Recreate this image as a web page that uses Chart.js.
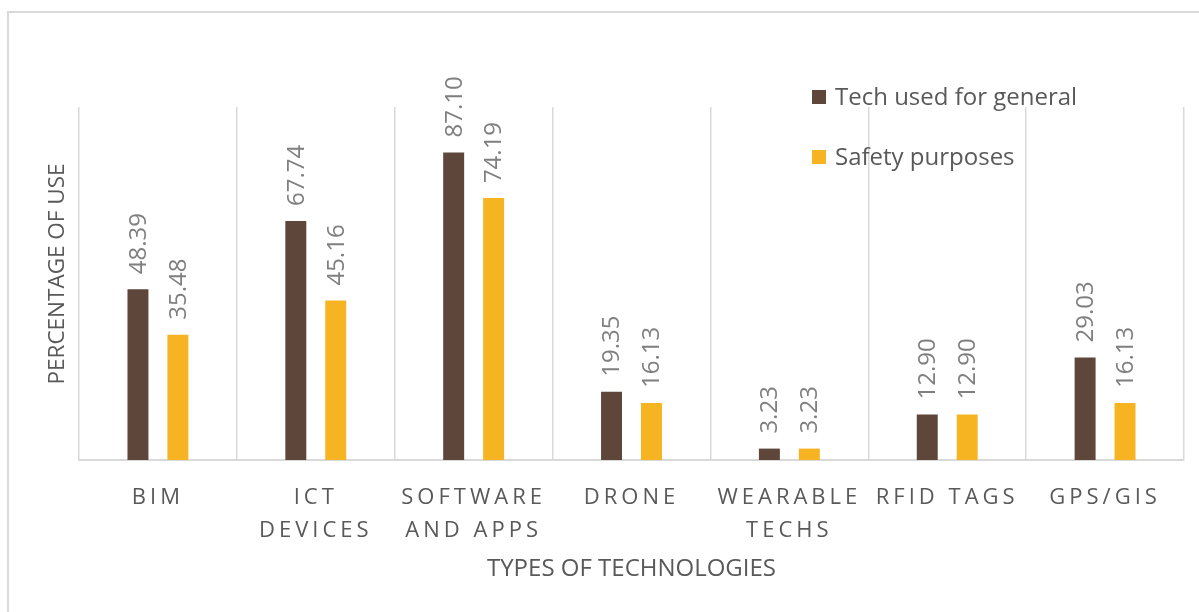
<!DOCTYPE html>
<html lang="en">
<head>
    <meta charset="UTF-8">
    <title>Types of technologies</title>
    <style>
        html, body { margin: 0; padding: 0; background: #fff; }
        .chart-box { position: relative; width: 1199px; height: 612px; }
    </style>
</head>
<body>
<div class="chart-box">
    <canvas id="techChart" width="1199" height="612"></canvas>
</div>

<script src="https://cdn.jsdelivr.net/npm/chart.js"></script>
<script>
// chart data
const categories = [['BIM'], ['ICT', 'DEVICES'], ['SOFTWARE', 'AND APPS'], ['DRONE'], ['WEARABLE', 'TECHS'], ['RFID TAGS'], ['GPS/GIS']];
const seriesNames = ['Tech used for general', 'Safety purposes'];
const generalUse = [48.39, 67.74, 87.10, 19.35, 3.23, 12.90, 29.03];
const safetyUse = [35.48, 45.16, 74.19, 16.13, 3.23, 12.90, 16.13];
const xTitle = 'TYPES OF TECHNOLOGIES';
const yTitle = 'PERCENTAGE OF USE';

const colors = ['#5E463B', '#F6B322'];
const textGrey = '#595959';
const FONT = '"Open Sans", "DejaVu Sans", sans-serif';

Chart.defaults.font.family = FONT;

// spaced-out tick labels, labels above bars, legend, titles, frame
const decorPlugin = {
    id: 'decor',
    beforeDraw(chart) {
        const ctx = chart.ctx;
        ctx.save();
        ctx.fillStyle = '#fff';
        ctx.fillRect(0, 0, chart.width, chart.height);
        ctx.fillStyle = '#D9D9D9';
        ctx.fillRect(7, 11, 2, chart.height - 11);
        ctx.fillRect(7, 11, chart.width - 7, 2);
        ctx.restore();
        ctx.letterSpacing = '4px';
    },
    beforeDatasetsDraw(chart) {
        chart.ctx.letterSpacing = '0px';
    },
    afterDatasetsDraw(chart) {
        const ctx = chart.ctx;
        ctx.save();
        ctx.font = '24px ' + FONT;
        ctx.fillStyle = '#7F7F7F';
        ctx.textAlign = 'left';
        ctx.textBaseline = 'middle';
        chart.data.datasets.forEach((ds, i) => {
            chart.getDatasetMeta(i).data.forEach((bar, j) => {
                ctx.save();
                ctx.translate(bar.x, bar.y - 15);
                ctx.rotate(-Math.PI / 2);
                ctx.fillText(ds.data[j].toFixed(2), 0, 1);
                ctx.restore();
            });
        });
        ctx.restore();
    },
    afterDraw(chart) {
        const ctx = chart.ctx;
        const area = chart.chartArea;
        ctx.save();
        ctx.letterSpacing = '0px';
        ctx.fillStyle = textGrey;

        // axis titles
        ctx.textAlign = 'center';
        ctx.textBaseline = 'middle';
        ctx.font = '24px ' + FONT;
        ctx.fillText(xTitle, (area.left + area.right) / 2, 569);
        ctx.font = '22.5px ' + FONT;
        ctx.save();
        ctx.translate(58, 274);
        ctx.rotate(-Math.PI / 2);
        ctx.fillText(yTitle, 0, 0);
        ctx.restore();

        // legend
        ctx.font = '24px ' + FONT;
        ctx.textAlign = 'left';
        chart.data.datasets.forEach((ds, i) => {
            const cy = 97 + i * 60;
            ctx.fillStyle = ds.backgroundColor;
            ctx.fillRect(812, cy - 7, 14, 14);
            ctx.fillStyle = textGrey;
            ctx.fillText(ds.label, 835, cy + 1);
        });
        ctx.restore();
    }
};

new Chart(document.getElementById('techChart'), {
    type: 'bar',
    data: {
        labels: categories,
        datasets: [
            { label: seriesNames[0], data: generalUse, backgroundColor: colors[0] },
            { label: seriesNames[1], data: safetyUse, backgroundColor: colors[1] }
        ]
    },
    options: {
        responsive: false,
        animation: false,
        events: [],
        categoryPercentage: 0.506,
        barPercentage: 0.525,
        layout: { padding: { left: 79, right: 15, top: 107, bottom: 0 } },
        scales: {
            x: {
                afterFit: (scale) => { scale.height = 152; },
                grid: {
                    offset: true,
                    drawTicks: false,
                    color: '#D9D9D9',
                    lineWidth: 1.5
                },
                border: { display: true, color: '#D9D9D9', width: 2 },
                ticks: {
                    color: textGrey,
                    font: { size: 22, lineHeight: 1.5 },
                    padding: 21,
                    maxRotation: 0,
                    autoSkip: false
                }
            },
            y: {
                display: false,
                min: 0,
                max: 100
            }
        },
        plugins: {
            legend: { display: false },
            tooltip: { enabled: false }
        }
    },
    plugins: [decorPlugin]
});
</script>
</body>
</html>
